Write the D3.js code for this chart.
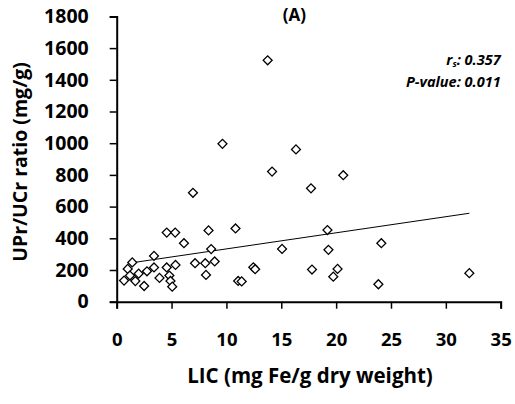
<!DOCTYPE html>
<html><head><meta charset="utf-8">
<script src="https://cdn.jsdelivr.net/npm/d3@7"></script>
<style>body{margin:0;background:#fff}text{font-family:"Open Sans",sans-serif;font-weight:bold;fill:#000}</style>
</head><body><svg id="c" width="515" height="404"></svg>
<script>
const lic = [0.67,1.0,1.42,1.21,1.7,2.0,2.5,2.76,3.4,3.4,3.9,4.56,4.56,5.33,4.8,4.9,5.06,5.36,6.13,6.95,7.14,8.07,8.14,8.37,8.61,8.93,9.64,10.83,11.07,11.39,12.45,12.62,13.76,14.16,15.07,16.34,17.71,17.8,19.21,19.3,19.74,20.13,20.65,24.12,23.85,32.14];
const upr = [133,207,248,165,130,177,99,192,289,216,150,216,436,436,165,131,95,232,369,687,243,243,169,450,332,254,996,462,131,128,217,205,1523,821,333,961,715,203,452,327,158,207,798,369,110,180];
const trendX = [1.42, 32.14];
const trendY = [246, 558];
const xTicks = [0,5,10,15,20,25,30,35];
const yTicks = [0,200,400,600,800,1000,1200,1400,1600,1800];
const title = "(A)";
const xLabel = "LIC (mg Fe/g dry weight)";
const yLabel = "UPr/UCr ratio (mg/g)";

const svg = d3.select("#c");
const x = d3.scaleLinear().domain([0,35]).range([116.7,500.7]);
const y = d3.scaleLinear().domain([0,1800]).range([301.7,16.4]);

const xa = svg.append("g").attr("transform","translate(0,301.7)")
  .call(d3.axisBottom(x).tickValues(xTicks).tickSize(7).tickPadding(24).tickFormat(d3.format("d")));
const ya = svg.append("g").attr("transform","translate(116.7,0)")
  .call(d3.axisLeft(y).tickValues(yTicks).tickSize(7).tickPadding(21).tickFormat(d3.format("d")));
[xa,ya].forEach(a=>{
  a.selectAll("path").attr("stroke","#000").attr("stroke-width",2);
  a.selectAll("line").attr("stroke","#000").attr("stroke-width",1.5);
  a.selectAll("text").style("font-weight","bold").style("font-family","'Open Sans',sans-serif").attr("fill","#000");
});
xa.selectAll("text").style("font-size","18.5px");
ya.selectAll("text").style("font-size","19.5px");

svg.append("line")
  .attr("x1",x(trendX[0])).attr("y1",y(trendY[0]))
  .attr("x2",x(trendX[1])).attr("y2",y(trendY[1]))
  .attr("stroke","#000").attr("stroke-width",1);

const sym = d3.symbol().type(d3.symbolSquare).size(40);
svg.append("g").selectAll("path").data(lic.map((v,i)=>[v,upr[i]])).join("path")
  .attr("d",sym)
  .attr("transform",d=>`translate(${x(d[0])},${y(d[1])}) rotate(45)`)
  .attr("fill","#fff").attr("stroke","#000").attr("stroke-width",1.3);

svg.append("text").attr("x",294.5).attr("y",21).attr("text-anchor","middle").style("font-size","17px").text(title);

const ann = svg.append("text").attr("x",500.7).attr("y",65).attr("text-anchor","end").style("font-size","14.5px").style("font-style","italic");
ann.append("tspan").text("r");
ann.append("tspan").attr("dy",2).style("font-size","9px").text("s");
ann.append("tspan").attr("dy",-2).text(": 0.357");
svg.append("text").attr("x",500.7).attr("y",87).attr("text-anchor","end").style("font-size","14.5px").style("font-style","italic").text("P-value: 0.011");

svg.append("text").attr("x",310).attr("y",383).attr("text-anchor","middle").style("font-size","20.5px").text(xLabel);
svg.append("text").attr("transform","translate(27,162) rotate(-90)").attr("text-anchor","middle").style("font-size","19.5px").text(yLabel);
</script></body></html>
